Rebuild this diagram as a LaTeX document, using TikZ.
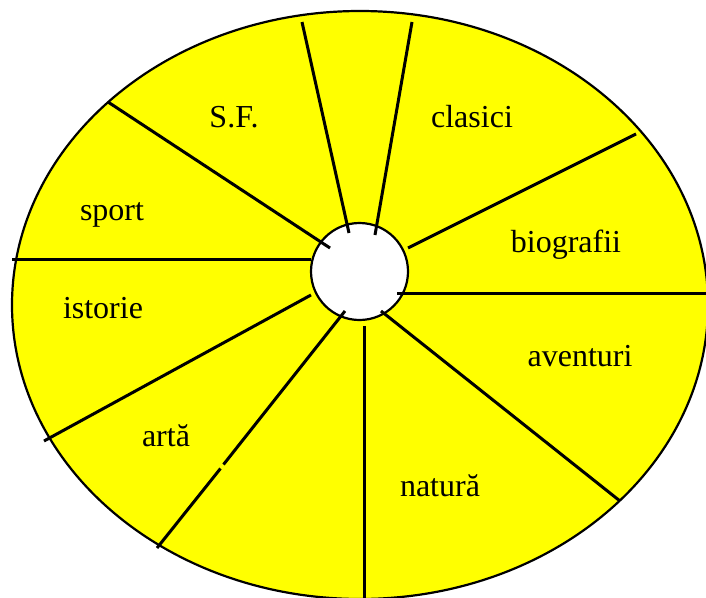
\documentclass[tikz,border=0pt]{standalone}
\usepackage{fontspec}
\setmainfont{Liberation Serif}
\definecolor{wheelyellow}{RGB}{255,255,0}
\tikzset{
  rim/.style={draw=black, line width=2.2pt, fill=wheelyellow},
  spoke/.style={draw=black, line width=3pt},
  hubstyle/.style={circle, draw=black, line width=2.2pt, fill=white, minimum size=97pt, inner sep=0pt},
  lbl/.style={font=\fontsize{32}{35}\selectfont, inner sep=0pt}
}
\begin{document}
\begin{tikzpicture}[x=1pt,y=-1pt]
\useasboundingbox (0,0) rectangle (706,597);
\clip (0,0) rectangle (706,597);
\path[rim] (360,305) ellipse [x radius=348, y radius=294];
\node[hubstyle] (hub) at (359.5,271.5) {};
% spoke end points
\coordinate (a1) at (302,22);   \coordinate (a2) at (349,233);
\coordinate (b1) at (412,22);   \coordinate (b2) at (375,235);
\coordinate (c1) at (108,102);  \coordinate (c2) at (330,248);
\coordinate (d1) at (12,259);   \coordinate (d2) at (311,259);
\coordinate (e1) at (44,441);   \coordinate (e2) at (311,295);
\coordinate (f1) at (157,548);  \coordinate (f2) at (220.5,468.5);
\coordinate (f3) at (223.5,464.5); \coordinate (f4) at (345,311);
\coordinate (g1) at (364,600);  \coordinate (g2) at (364,326);
\coordinate (h1) at (620,501);  \coordinate (h2) at (381,311);
\coordinate (i1) at (706,293);  \coordinate (i2) at (397,293);
\coordinate (j1) at (636,134);  \coordinate (j2) at (408,248);
\draw[spoke] (a1) -- (a2);
\draw[spoke] (b1) -- (b2);
\draw[spoke] (c1) -- (c2);
\draw[spoke] (d1) -- (d2);
\draw[spoke] (e1) -- (e2);
\draw[spoke] (f1) -- (f2);
\draw[spoke] (f3) -- (f4);
\draw[spoke] (g1) -- (g2);
\draw[spoke] (h1) -- (h2);
\draw[spoke] (i1) -- (i2);
\draw[spoke] (j1) -- (j2);
% labels
\node[lbl] (sf) at (234,117) {S.F.};
\node[lbl] (clasici) at (472,117) {clasici};
\node[lbl] (sport) at (112,215) {sport};
\node[lbl] (biografii) at (566,245) {biografii};
\node[lbl] (istorie) at (103,308) {istorie};
\node[lbl] (aventuri) at (580,356) {aventuri};
\node[lbl] (arta) at (166,436) {artă};
\node[lbl] (natura) at (440,486) {natură};
\end{tikzpicture}
\end{document}
